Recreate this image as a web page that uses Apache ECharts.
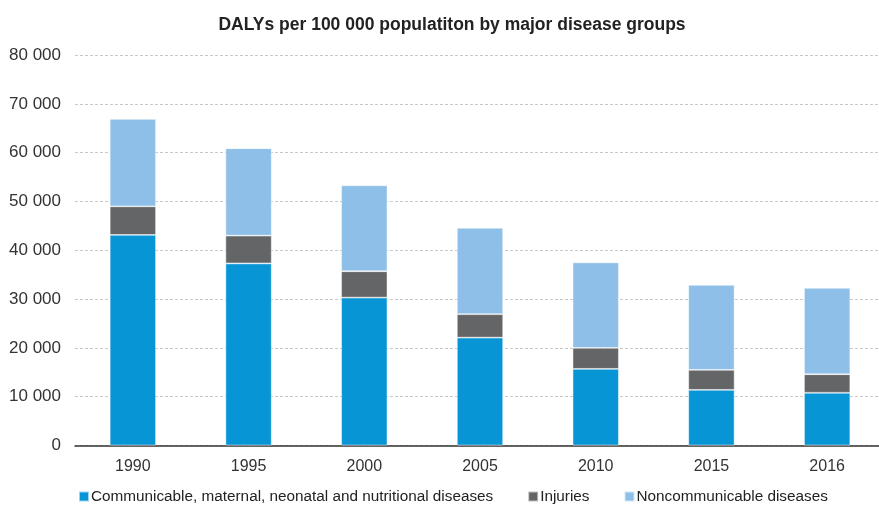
<!DOCTYPE html>
<html>
<head>
<meta charset="utf-8">
<script src="https://cdn.jsdelivr.net/npm/echarts@6/dist/echarts.min.js"></script>
<style>
  html, body { margin: 0; padding: 0; background: #fff; }
  #chart { width: 879px; height: 508px; }
</style>
</head>
<body>
<div id="chart"></div>
<script>
// Years shown on the category axis
const years = ['1990', '1995', '2000', '2005', '2010', '2015', '2016'];

// DALYs per 100 000 population, stacked by disease group
const communicable = [43150, 37300, 30300, 22100, 15700, 11400, 10800];
const injuries = [5850, 5700, 5400, 4800, 4300, 4100, 3800];
const noncommunicable = [17900, 17900, 17600, 17700, 17500, 17400, 17700];

const seriesNames = [
  'Communicable, maternal, neonatal and nutritional diseases',
  'Injuries',
  'Noncommunicable diseases'
];

const colors = ['#0895d6', '#646567', '#8dbfe8'];
const font = 'Liberation Sans, Arial, sans-serif';

const chart = echarts.init(document.getElementById('chart'), null, { renderer: 'canvas' });

function stackSeries(name, data, color) {
  return {
    name: name,
    type: 'bar',
    stack: 'total',
    data: data,
    barWidth: '40%',
    itemStyle: { color: color, borderColor: 'rgba(255,255,255,0.6)', borderWidth: 0.8 },
    emphasis: { disabled: true }
  };
}

chart.setOption({
  animation: false,
  color: colors,
  title: {
    text: 'DALYs per 100 000 populatiton by major disease groups',
    left: 447,
    textAlign: 'center',
    top: 11,
    textStyle: { fontFamily: font, fontWeight: 'bold', fontSize: 17.5, color: '#222' }
  },
  legend: {
    left: 78,
    top: 489,
    padding: 0,
    itemWidth: 10,
    itemHeight: 10,
    itemGap: 34,
    icon: 'rect',
    textStyle: { fontFamily: font, fontSize: 15.3, color: '#222', padding: [0, 0, 0, -3] },
    data: seriesNames
  },
  // the plot runs a few pixels past the right edge of the page
  grid: { left: 75, top: 55, width: 810, height: 390.5, containLabel: false, outerBoundsMode: 'none' },
  xAxis: {
    type: 'category',
    data: years,
    axisLine: { lineStyle: { color: '#333', width: 1.5 } },
    axisTick: { show: false },
    axisLabel: { fontFamily: font, fontSize: 16, color: '#333', margin: 13 }
  },
  yAxis: {
    type: 'value',
    min: 0,
    max: 80000,
    interval: 10000,
    axisLine: { show: false },
    axisTick: { show: false },
    axisLabel: {
      fontFamily: font, fontSize: 17, color: '#333', margin: 14,
      formatter: v => v === 0 ? '0' : String(v).replace(/\B(?=(\d{3})+(?!\d))/g, ' ')
    },
    splitLine: { lineStyle: { color: '#c8c8c8', type: [3, 2], width: 1 } }
  },
  series: [
    stackSeries(seriesNames[0], communicable, colors[0]),
    stackSeries(seriesNames[1], injuries, colors[1]),
    stackSeries(seriesNames[2], noncommunicable, colors[2])
  ]
});
</script>
</body>
</html>
